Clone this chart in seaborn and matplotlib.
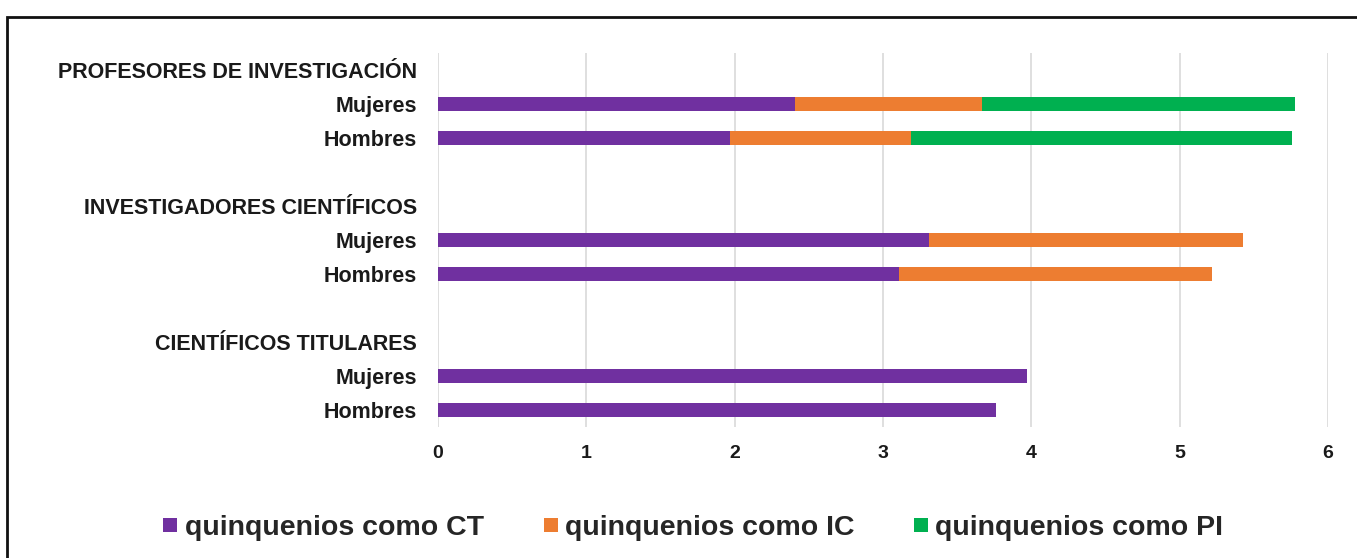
import numpy as np
import pandas as pd
import matplotlib
matplotlib.use("Agg")
import matplotlib.pyplot as plt
from matplotlib.lines import Line2D
from matplotlib.patches import Rectangle
import seaborn as sns

# filas del gráfico (cabeceras de grupo sin barra, filas vacías de separación)
row_keys = ["h_pi", "pi_m", "pi_h", "gap1", "h_ic", "ic_m", "ic_h", "gap2", "h_ct", "ct_m", "ct_h"]
row_labels = ["PROFESORES DE INVESTIGACIÓN", "Mujeres", "Hombres", "",
              "INVESTIGADORES CIENTÍFICOS", "Mujeres", "Hombres", "",
              "CIENTÍFICOS TITULARES", "Mujeres", "Hombres"]

# quinquenios
q_ct = [np.nan, 2.41, 1.97, np.nan, np.nan, 3.31, 3.11, np.nan, np.nan, 3.97, 3.76]
q_ic = [np.nan, 1.26, 1.22, np.nan, np.nan, 2.12, 2.11, np.nan, np.nan, np.nan, np.nan]
q_pi = [np.nan, 2.11, 2.57, np.nan, np.nan, np.nan, np.nan, np.nan, np.nan, np.nan, np.nan]

series_names = ["quinquenios como CT", "quinquenios como IC", "quinquenios como PI"]
colors = ["#7030A0", "#ED7D31", "#00B050"]

df = pd.DataFrame({"fila": row_keys, "CT": q_ct, "IC": q_ic, "PI": q_pi})
# acumulados para apilar (se dibuja primero el más largo)
df["lvl1"] = df["CT"]
df["lvl2"] = df["CT"] + df["IC"]
df["lvl3"] = df["lvl2"] + df["PI"]

sns.set_theme(style="white")
plt.rcParams["font.family"] = ["Liberation Sans", "DejaVu Sans"]

fig = plt.figure(figsize=(13.57, 5.58), dpi=100)
ax = fig.add_axes([438 / 1357, 1 - 427 / 558, (1328 - 438) / 1357, (427 - 53) / 558])

for lvl, col in zip(["lvl3", "lvl2", "lvl1"], colors[::-1]):
    sub = df[df[lvl].notna()]
    sns.barplot(data=sub, x=lvl, y="fila", order=row_keys, orient="h",
                color=col, width=0.42, linewidth=0, saturation=1, ax=ax, zorder=3)

ax.set_xlim(0, 6)
ax.set_ylim(10.5, -0.5)
ax.set_xticks(range(0, 7))
ax.set_xticklabels([str(i) for i in range(0, 7)], fontsize=14, fontweight="bold", color="#1a1a1a")
ax.set_yticks(range(len(row_keys)))
ax.set_yticklabels(row_labels, fontsize=15.5, fontweight="bold", color="#1a1a1a")
ax.tick_params(axis="x", length=0, pad=13)
ax.tick_params(axis="y", length=0, pad=15)
ax.set_xlabel("")
ax.set_ylabel("")
ax.grid(axis="x", color="#D9D9D9", linewidth=1.2, zorder=0)
ax.set_axisbelow(True)
for s in ax.spines.values():
    s.set_visible(False)

# marco exterior
fig.patches.append(Rectangle((7 / 1357, -0.2), 1.2, 1.2 - 17 / 558,
                             transform=fig.transFigure, fill=False,
                             edgecolor="#111111", linewidth=2.0))

handles = [Line2D([], [], linestyle="none", marker="s", markersize=10,
                  markerfacecolor=c, markeredgewidth=0) for c in colors]
fig.legend(handles, series_names, loc="center", bbox_to_anchor=(0.511, 1 - 528 / 558),
           ncol=3, frameon=False, handlelength=0.5, handletextpad=0.25,
           columnspacing=2.1, prop={"size": 20.5, "weight": "bold", "family": "Liberation Sans"})

fig.savefig("out.png", dpi=100)
